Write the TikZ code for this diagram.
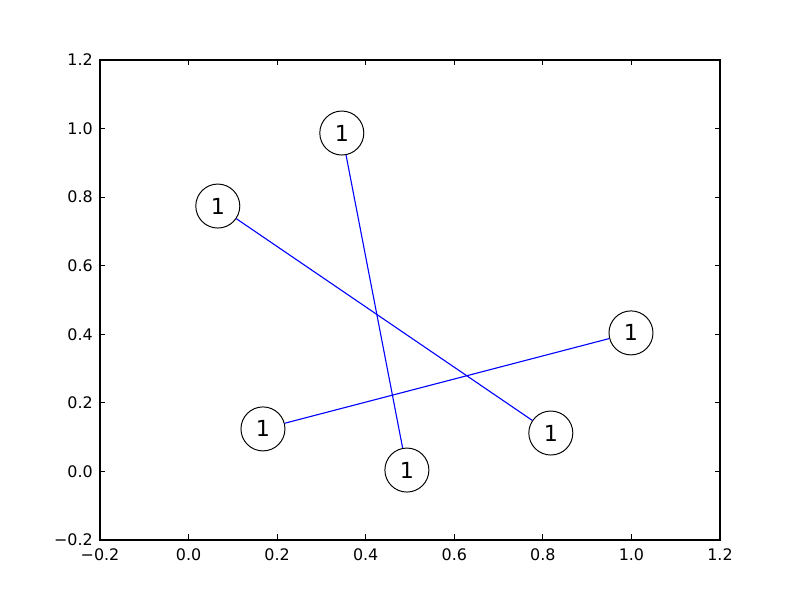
\documentclass[tikz,border=0pt]{standalone}
\usepackage{fontspec}
\setmainfont{DejaVu Sans}
\usetikzlibrary{positioning}
\definecolor{edgeblue}{HTML}{0000FF}
\tikzset{vertex/.style={draw=black,circle,fill=white,minimum size=0.44in,inner sep=0pt,line width=0.7pt,font=\fontsize{16}{16}\selectfont},link/.style={draw=edgeblue,line width=0.8pt},frame/.style={draw=black,line width=1pt},tickmark/.style={draw=black,line width=0.6pt},ticklabel/.style={inner sep=0pt,font=\fontsize{11.5}{11.5}\selectfont}}

\begin{document}
\begin{tikzpicture}[x=4.428571in,y=3.428571in]
\useasboundingbox ([xshift=-1in,yshift=-0.6in]-0.2,-0.2) rectangle ([xshift=0.8in,yshift=0.6in]1.2,1.2);
\foreach \v/\t [count=\i] in {-0.2/−0.2,0/0.0,0.2/0.2,0.4/0.4,0.6/0.6,0.8/0.8,1.0/1.0,1.2/1.2}{
  \draw[tickmark] (\v,-0.2) -- ++(0,0.055in) (\v,1.2) -- ++(0,-0.055in);
  \draw[tickmark] (-0.2,\v) -- ++(0.055in,0) (1.2,\v) -- ++(-0.055in,0);
  \node[ticklabel,anchor=north] (xl\i) at ([yshift=-0.08in]\v,-0.2) {\t};
  \node[ticklabel,anchor=east] (yl\i) at ([xshift=-0.07in]-0.2,\v) {\t};
}
\draw[frame] (-0.2,-0.2) rectangle (1.2,1.2);
\node[vertex] (v1) at (0.346,0.987) {1};
\node[vertex] (v2) at (0.066,0.774) {1};
\node[vertex] (v3) at (0.999,0.404) {1};
\node[vertex] (v4) at (0.168,0.124) {1};
\node[vertex] (v5) at (0.493,0.004) {1};
\node[vertex] (v6) at (0.818,0.112) {1};
\foreach \a/\b in {v1/v5,v2/v6,v4/v3}\draw[link] (\a)--(\b);
\end{tikzpicture}
\end{document}
